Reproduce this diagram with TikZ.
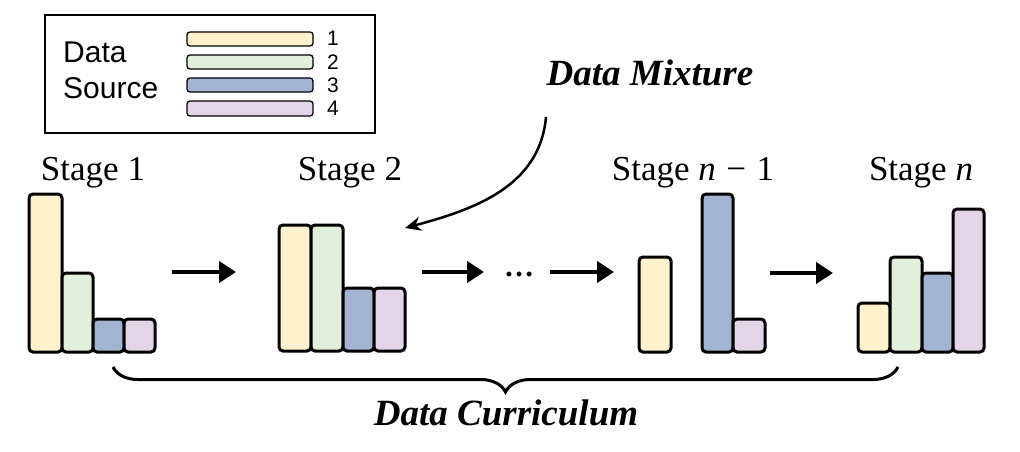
\documentclass[tikz,border=0pt]{standalone}
\usepackage{fontspec}
\setmainfont{Liberation Serif}
\newfontfamily\legendfont{Liberation Sans}
\usetikzlibrary{arrows.meta,decorations.pathreplacing}
\definecolor{cy}{HTML}{FFF2CC}
\definecolor{cg}{HTML}{E2EFDA}
\definecolor{cb}{HTML}{A2B4D2}
\definecolor{cp}{HTML}{E1D5E7}
\begin{document}
\begin{tikzpicture}[x=1pt,y=-1pt,
  bar/.style={draw=black, line width=3pt, rounded corners=4pt},
  lbar/.style={draw=black, line width=1.3pt, rounded corners=3pt},
  flow/.style={line width=4pt, -{Triangle[length=17pt,width=21pt]}},
  stagelbl/.style={font=\fontsize{35}{40}\selectfont, anchor=base, inner sep=0pt},
  emphlbl/.style={font=\fontsize{37}{42}\selectfont\bfseries\itshape, anchor=base, inner sep=0pt},
  legtxt/.style={font=\legendfont\fontsize{30}{34}\selectfont, anchor=base west, inner sep=0pt},
  legnum/.style={font=\legendfont\fontsize{21}{23}\selectfont, anchor=west, inner sep=0pt}]
\useasboundingbox (0,0) rectangle (1020,452);

% legend
\draw[line width=1.4pt] (45,15) rectangle (375,133);
\node[legtxt] (ldata) at (63,63) {Data};
\node[legtxt] (lsource) at (63,98) {Source};
\draw[lbar,fill=cy] (187,32) rectangle (313,46);
\draw[lbar,fill=cg] (187,55) rectangle (313,69);
\draw[lbar,fill=cb] (187,78) rectangle (313,92);
\draw[lbar,fill=cp] (187,101) rectangle (313,116);
\node[legnum] (n1) at (327,38) {1};
\node[legnum] (n2) at (327,62) {2};
\node[legnum] (n3) at (327,85) {3};
\node[legnum] (n4) at (327,108) {4};

% stage labels
\node[stagelbl] (st1) at (93,180) {Stage 1};
\node[stagelbl] (st2) at (350,180) {Stage 2};
\node[stagelbl] (stn1) at (693,180) {Stage \textit{n}\hspace{0.3em}−\hspace{0.3em}1};
\node[stagelbl] (stn) at (921,180) {Stage \textit{n}};

% stage 1 bars
\draw[bar,fill=cy] (29,194) rectangle (62,352);
\draw[bar,fill=cg] (62,273) rectangle (93,352);
\draw[bar,fill=cb] (93,319) rectangle (124,352);
\draw[bar,fill=cp] (124,319) rectangle (155,352);

% stage 2 bars
\draw[bar,fill=cy] (279,225) rectangle (311,351);
\draw[bar,fill=cg] (311,225) rectangle (343,351);
\draw[bar,fill=cb] (343,288) rectangle (374,351);
\draw[bar,fill=cp] (374,288) rectangle (405,351);

% stage n-1 bars
\draw[bar,fill=cy] (639,257) rectangle (671,352);
\draw[bar,fill=cb] (702,194) rectangle (733,352);
\draw[bar,fill=cp] (733,319) rectangle (765,352);

% stage n bars
\draw[bar,fill=cy] (858,303) rectangle (890,352);
\draw[bar,fill=cg] (890,257) rectangle (922,352);
\draw[bar,fill=cb] (922,273) rectangle (953,352);
\draw[bar,fill=cp] (953,209) rectangle (984,352);

% flow arrows
\coordinate (a1s) at (172,272);
\coordinate (a1e) at (236,272);
\coordinate (a2s) at (422,272);
\coordinate (a2e) at (484,272);
\coordinate (a3s) at (550,272);
\coordinate (a3e) at (614,272);
\coordinate (a4s) at (770,273);
\coordinate (a4e) at (833,273);
\draw[flow] (a1s) -- (a1e);
\draw[flow] (a2s) -- (a2e);
\draw[flow] (a3s) -- (a3e);
\draw[flow] (a4s) -- (a4e);
\node[font=\fontsize{30}{34}\selectfont\bfseries, inner sep=0pt, anchor=base] (dots) at (519,276) {…};

% data mixture
\node[emphlbl] (mix) at (650,85) {Data Mixture};
\coordinate (mixs) at (546,117);
\coordinate (mixe) at (405,228);
\draw[line width=2.5pt, -{Stealth[length=16pt,width=14pt]}] (mixs) to[out=-95,in=15] (mixe);

% curriculum brace
\coordinate (bl) at (113,367);
\coordinate (br) at (898,367);
\draw[line width=3pt, decorate, decoration={brace, mirror, amplitude=25pt, aspect=0.5}] (bl) -- (br);
\node[emphlbl] (cur) at (506,425) {Data Curriculum};
\end{tikzpicture}
\end{document}
